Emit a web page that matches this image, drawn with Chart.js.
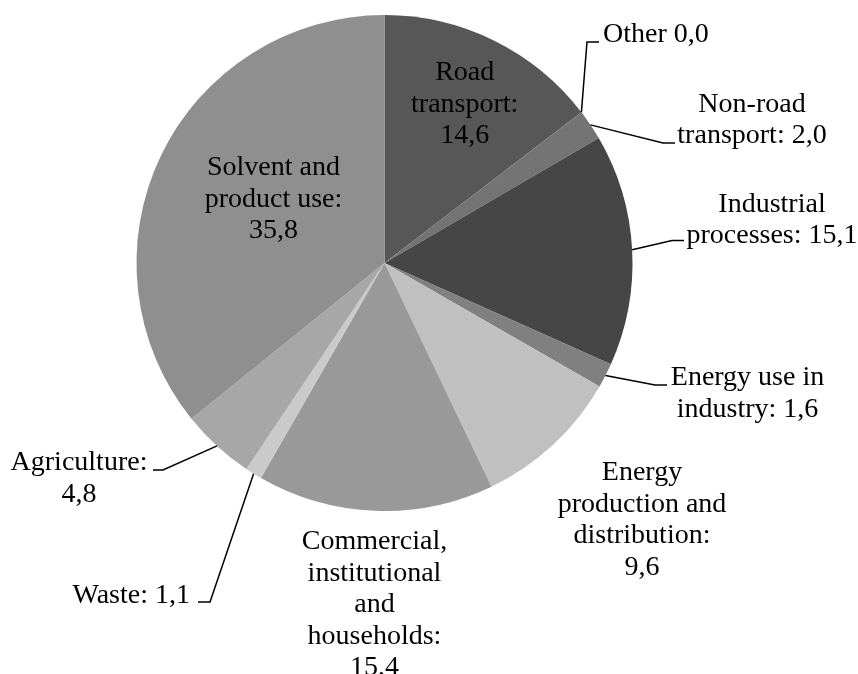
<!DOCTYPE html>
<html>
<head>
<meta charset="utf-8">
<script src="https://cdn.jsdelivr.net/npm/chart.js@4/dist/chart.umd.min.js"></script>
<style>
  html, body { margin: 0; padding: 0; background: #ffffff; }
  #wrap { width: 858px; height: 674px; position: relative; }
</style>
</head>
<body>
<div id="wrap"><canvas id="c" width="858" height="674"></canvas></div>
<script>
// ---- data ----
const categories = [
  'Road transport', 'Other', 'Non-road transport', 'Industrial processes',
  'Energy use in industry', 'Energy production and distribution',
  'Commercial, institutional and households', 'Waste', 'Agriculture',
  'Solvent and product use'
];
const values = [14.6, 0.0, 2.0, 15.1, 1.6, 9.6, 15.4, 1.1, 4.8, 35.8];
const labelLines = [
  ['Road', 'transport:', '14,6'],
  ['Other 0,0'],
  ['Non-road', 'transport: 2,0'],
  ['Industrial', 'processes: 15,1'],
  ['Energy use in', 'industry: 1,6'],
  ['Energy', 'production and', 'distribution:', '9,6'],
  ['Commercial,', 'institutional', 'and', 'households:', '15,4'],
  ['Waste: 1,1'],
  ['Agriculture:', '4,8'],
  ['Solvent and', 'product use:', '35,8']
];

// ---- styles / layout ----
const sliceColors = ['#575757', '#6e6e6e', '#747474', '#464646', '#808080',
                     '#c0c0c0', '#999999', '#cacaca', '#a7a7a7', '#8f8f8f'];
const LINE_H = 31.5;
const labelLayout = [
  { x: 464.7, y: 80,    align: 'center', leader: null },
  { x: 603,   y: 42,    align: 'left',   leader: [[587, 42], [599, 42]] },
  { x: 752,   y: 111.5, align: 'center', leader: [[663, 143], [675, 143]] },
  { x: 772,   y: 211.5, align: 'center', leader: [[672, 240.5], [684, 240.5]] },
  { x: 747.5, y: 385,   align: 'center', leader: [[655, 385], [667, 385]] },
  { x: 642,   y: 480,   align: 'center', leader: null },
  { x: 374.5, y: 549,   align: 'center', leader: null },
  { x: 190,   y: 603,   align: 'right',  leader: [[210, 602], [198, 602]] },
  { x: 79,    y: 470,   align: 'center', leader: [[163, 470], [153, 470]] },
  { x: 273.5, y: 175,   align: 'center', leader: null }
];

const labelPlugin = {
  id: 'pieLabels',
  afterDatasetsDraw(chart) {
    const ctx = chart.ctx;
    const meta = chart.getDatasetMeta(0);
    ctx.save();
    // leader lines
    ctx.strokeStyle = '#000000';
    ctx.lineWidth = 1.5;
    meta.data.forEach((arc, i) => {
      const L = labelLayout[i];
      if (!L.leader) return;
      const p = arc.getProps(['x', 'y', 'startAngle', 'endAngle', 'outerRadius'], true);
      const mid = (p.startAngle + p.endAngle) / 2;
      const sx = p.x + Math.cos(mid) * p.outerRadius;
      const sy = p.y + Math.sin(mid) * p.outerRadius;
      ctx.beginPath();
      ctx.moveTo(sx, sy);
      L.leader.forEach(pt => ctx.lineTo(pt[0], pt[1]));
      ctx.stroke();
    });
    // text
    ctx.fillStyle = '#000000';
    ctx.font = '28px "Liberation Serif", "Times New Roman", serif';
    ctx.textBaseline = 'alphabetic';
    labelLines.forEach((lines, i) => {
      const L = labelLayout[i];
      ctx.textAlign = L.align;
      lines.forEach((t, k) => ctx.fillText(t, L.x, L.y + k * LINE_H));
    });
    ctx.restore();
  }
};

new Chart(document.getElementById('c'), {
  type: 'pie',
  data: {
    labels: categories,
    datasets: [{
      data: values,
      backgroundColor: sliceColors,
      borderWidth: 0
    }]
  },
  options: {
    responsive: false,
    animation: false,
    layout: { padding: { left: 136.5, right: 225.5, top: 15, bottom: 163 } },
    plugins: {
      legend: { display: false },
      tooltip: { enabled: false }
    }
  },
  plugins: [labelPlugin]
});
</script>
</body>
</html>
